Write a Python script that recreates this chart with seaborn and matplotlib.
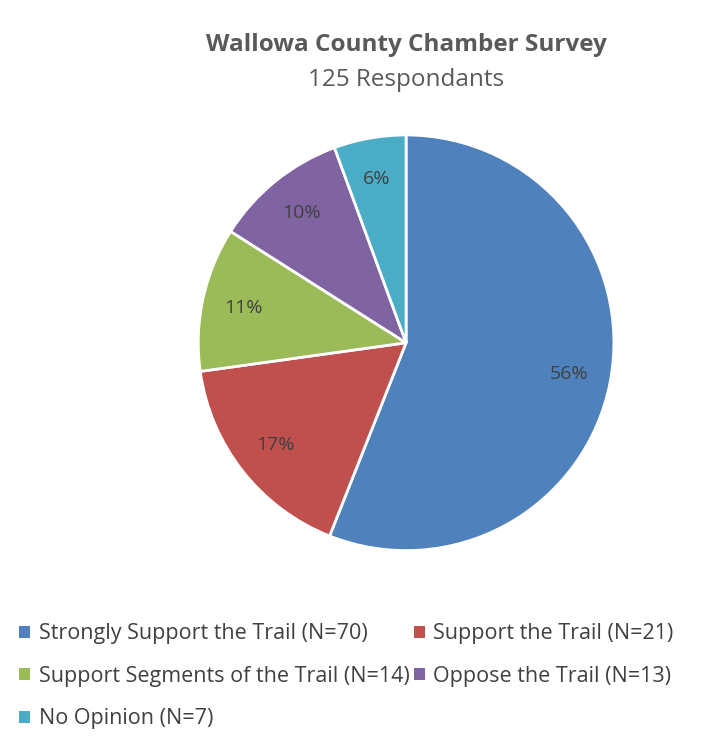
import matplotlib
matplotlib.use("Agg")
import matplotlib.pyplot as plt
import seaborn as sns
from matplotlib.patches import Patch

categories = ["Strongly Support the Trail (N=70)", "Support the Trail (N=21)",
              "Support Segments of the Trail (N=14)", "Oppose the Trail (N=13)",
              "No Opinion (N=7)"]
counts = [70, 21, 14, 13, 7]
colors = sns.color_palette(["#4F81BD", "#C0504D", "#9BBB59", "#8064A2", "#4BACC6"])

sns.set_theme(style="white", font="Open Sans")
fig = plt.figure(figsize=(7.05, 7.55), dpi=100)
ax = fig.add_axes([0.576 - 0.298, 0.546 - 0.278, 0.596, 0.556])
wedges, texts, autotexts = ax.pie(
    counts, colors=colors, startangle=90, counterclock=False,
    autopct="%1.0f%%", pctdistance=0.8,
    wedgeprops=dict(edgecolor="white", linewidth=2),
    textprops=dict(color="#404040", fontsize=14))
ax.set_xlim(-1.01, 1.01)
ax.set_ylim(-1.01, 1.01)
ax.set_aspect("equal")

fig.text(0.576, 0.94, "Wallowa County Chamber Survey", ha="center", va="center",
         fontsize=17.5, fontweight="bold", color="#595959")
fig.text(0.576, 0.894, "125 Respondants", ha="center", va="center",
         fontsize=17.5, color="#595959")

handles = [Patch(facecolor=c, edgecolor="none") for c in colors]
order = [0, 2, 4, 1, 3]
fig.legend([handles[i] for i in order], [categories[i] for i in order],
           ncol=2, loc="upper left", bbox_to_anchor=(0.0, 0.2), frameon=False,
           fontsize=15.5, handlelength=0.5, handleheight=0.5, handletextpad=0.4,
           columnspacing=0.2, labelspacing=1.0, labelcolor="#404040")

fig.savefig("out.png", dpi=100)
